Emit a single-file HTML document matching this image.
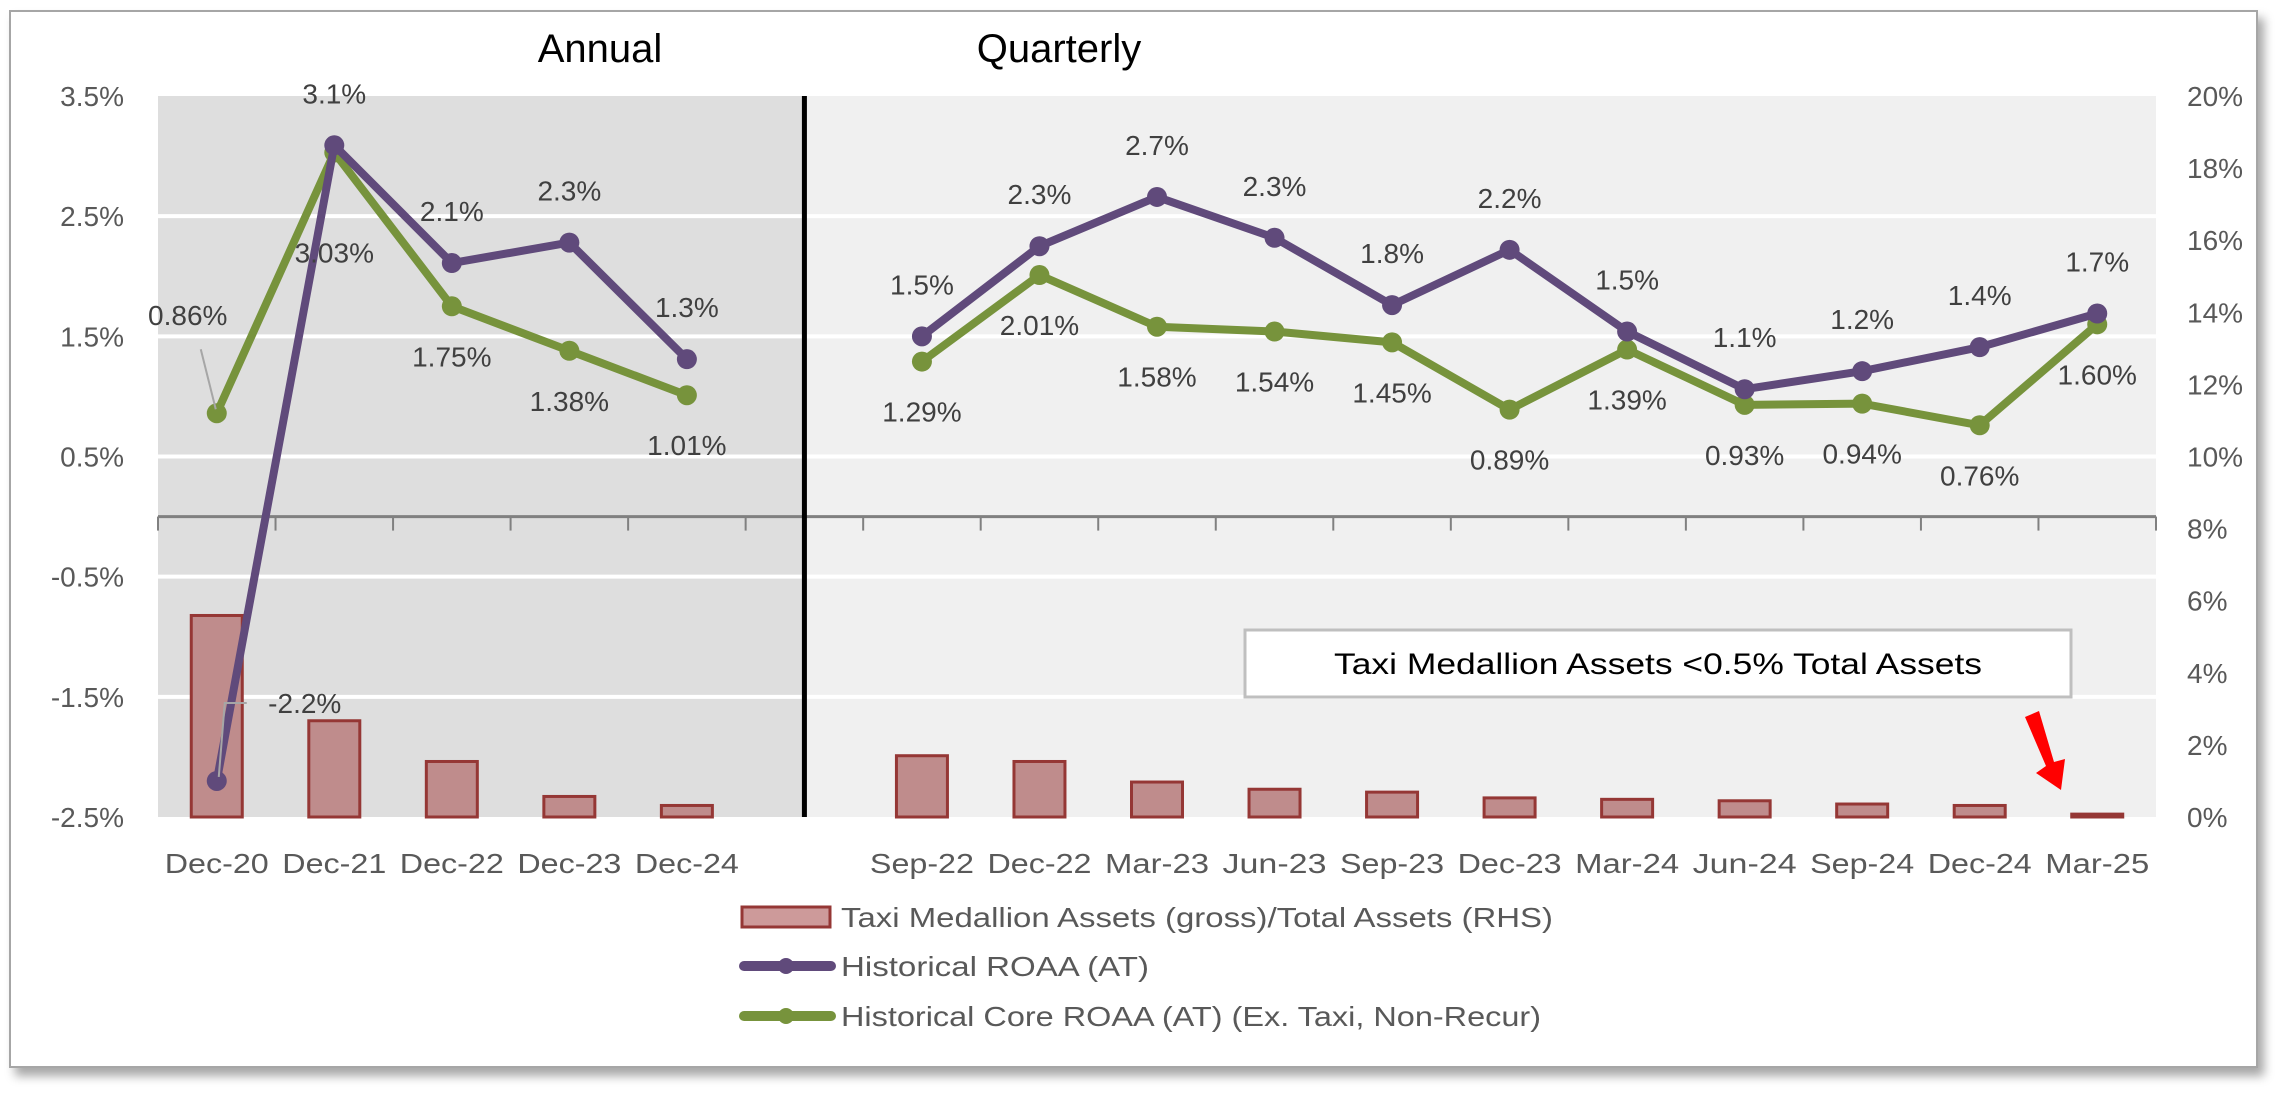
<!DOCTYPE html>
<html><head><meta charset="utf-8"><style>
html,body{margin:0;padding:0;background:#fff;}
svg{display:block;font-family:"Liberation Sans",sans-serif;}
</style></head><body>
<svg id="chart" width="2287" height="1097" viewBox="0 0 2287 1097" xmlns="http://www.w3.org/2000/svg">
<defs><filter id="sh" x="-5%" y="-5%" width="110%" height="115%"><feDropShadow dx="6" dy="8" stdDeviation="5" flood-color="#000" flood-opacity="0.35"/></filter></defs>
<rect x="10" y="11" width="2247" height="1056" fill="#fff" stroke="#a6a6a6" stroke-width="2" filter="url(#sh)"/>
<g id="plot"></g>
</svg>
<script>
const categories=["Dec-20","Dec-21","Dec-22","Dec-23","Dec-24","","Sep-22","Dec-22","Mar-23","Jun-23","Sep-23","Dec-23","Mar-24","Jun-24","Sep-24","Dec-24","Mar-25"];
const roaa=[-2.2,3.09,2.11,2.28,1.31,null,1.5,2.25,2.66,2.32,1.76,2.22,1.54,1.06,1.21,1.41,1.69];
const coreRoaa=[0.86,3.03,1.75,1.38,1.01,null,1.29,2.01,1.58,1.54,1.45,0.89,1.39,0.93,0.94,0.76,1.60];
const taxiAssets=[5.59,2.67,1.54,0.57,0.32,null,1.70,1.54,0.97,0.77,0.69,0.53,0.49,0.45,0.36,0.32,0.08];
const leftTicks=[3.5,2.5,1.5,0.5,-0.5,-1.5,-2.5];
const rightTicks=[20,18,16,14,12,10,8,6,4,2,0];
const roaaLabelSide=["right","above","above","above","above",null,"above","above","above","above","above","above","above","above","above","above","above"];
const coreLabelSide=["leader","far-below","below","below","below",null,"below","below","below","below","below","below","below","below","below","below","below"];

const NS="http://www.w3.org/2000/svg";
const P={l:158,r:2156,t:96,b:817};
const band=(P.r-P.l)/categories.length;
const xc=i=>P.l+band*(i+0.5);
const yL=v=>P.t+(3.5-v)/6*(P.b-P.t);
const yR=v=>P.b-v/20*(P.b-P.t);
const g=document.getElementById('plot');
function mk(tag,attrs,parent){const e=document.createElementNS(NS,tag);for(const k in attrs)e.setAttribute(k,attrs[k]);(parent||g).appendChild(e);return e;}
function txt(s,attrs){const e=mk('text',attrs);e.textContent=s;return e;}

const sepX=xc(5);
let e=mk('rect',{x:P.l,y:P.t,width:sepX-P.l,height:P.b-P.t,fill:'#dedede'});


e=mk('rect',{x:sepX,y:P.t,width:P.r-sepX,height:P.b-P.t,fill:'#f0f0f0'});


leftTicks.forEach(v=>{ if(v===3.5||v===-2.5)return;
  const l=mk('line',{x1:P.l,x2:P.r,y1:yL(v),y2:yL(v),stroke:'#fff','stroke-width':4});
  
  
});
leftTicks.forEach(v=>{
  const t=txt(v.toFixed(1)+'%',{x:124,y:yL(v)+10,'text-anchor':'end','font-size':28,fill:'#595959'});
  
  
});
rightTicks.forEach(v=>{
  const t=txt(v+'%',{x:2187,y:yR(v)+10,'font-size':28,fill:'#595959'});
  
  
});
const bw=51;
taxiAssets.forEach((v,i)=>{ if(v==null)return;
  const y=yR(v);
  const r=mk('rect',{x:xc(i)-bw/2,y:y,width:bw,height:Math.max(P.b-y,1),fill:'#bf8c8c',stroke:'#953735','stroke-width':3});
  
  
});
const y0=yL(0);
e=mk('line',{x1:P.l,x2:P.r,y1:y0,y2:y0,stroke:'#808080','stroke-width':3});


for(let i=0;i<=categories.length;i++){
  const t=mk('line',{x1:P.l+band*i,x2:P.l+band*i,y1:y0,y2:y0+14,stroke:'#808080','stroke-width':2});
  
  
}
e=mk('line',{x1:sepX,x2:sepX,y1:P.t,y2:P.b,stroke:'#000','stroke-width':5});


categories.forEach((c,i)=>{ if(!c)return;
  const t=txt(c,{x:xc(i),y:873,'text-anchor':'middle','font-size':28,fill:'#595959',textLength:104,lengthAdjust:'spacingAndGlyphs'});
  
  
});
function series(vals,color,name){
  [[0,4],[6,16]].forEach(([a,b])=>{
    const pts=[];for(let i=a;i<=b;i++)pts.push(xc(i)+','+yL(vals[i]));
    const pl=mk('polyline',{points:pts.join(' '),fill:'none',stroke:color,'stroke-width':8,'stroke-linejoin':'round'});
    
    
  });
  vals.forEach((v,i)=>{ if(v==null)return;
    const c=mk('circle',{cx:xc(i),cy:yL(v),r:10,fill:color});
    
    
  });
}
series(coreRoaa,'#77933c','core-roaa');
series(roaa,'#604a7b','roaa');
roaa.forEach((v,i)=>{ if(v==null)return;
  let x=xc(i),y=yL(v)-42;
  if(roaaLabelSide[i]==='right'){x=xc(i)+88;y=yL(v)-68;
    const ld=mk('polyline',{points:(xc(i)+2)+','+(yL(v)-4)+' '+(xc(i)+8)+','+(yL(v)-78)+' '+(xc(i)+30)+','+(yL(v)-78),fill:'none',stroke:'#a6a6a6','stroke-width':2});
    
    
  }
  const t=txt(v.toFixed(1)+'%',{x:x,y:y,'text-anchor':'middle','font-size':28,fill:'#404040'});
  
  
});
coreRoaa.forEach((v,i)=>{ if(v==null)return;
  let x=xc(i),y=yL(v)+60;
  if(coreLabelSide[i]==='far-below'){y=yL(v)+110;}
  if(coreLabelSide[i]==='leader'){x=xc(i)-29;y=yL(v)-88;
    const ld=mk('line',{x1:xc(i)-16,y1:yL(v)-64,x2:xc(i)-1,y2:yL(v)-4,stroke:'#a6a6a6','stroke-width':2});
    
    
  }
  const t=txt(v.toFixed(2)+'%',{x:x,y:y,'text-anchor':'middle','font-size':28,fill:'#404040'});
  
  
});
e=txt('Annual',{x:600,y:62,'text-anchor':'middle','font-size':40,fill:'#000'});


e=txt('Quarterly',{x:1059,y:62,'text-anchor':'middle','font-size':40,fill:'#000'});


e=mk('rect',{x:1245,y:630,width:826,height:67,fill:'#fff',stroke:'#bfbfbf','stroke-width':3});


e=txt('Taxi Medallion Assets <0.5% Total Assets',{x:1658,y:674,'text-anchor':'middle','font-size':30,fill:'#000',textLength:648,lengthAdjust:'spacingAndGlyphs'});


e=mk('polygon',{points:'2025,717 2039,711 2054,762 2065,759 2061,790 2036,773 2046,766',fill:'#ff0000'});


e=mk('rect',{x:742,y:907,width:88,height:20,fill:'#cd9a9a',stroke:'#953735','stroke-width':3});


e=txt('Taxi Medallion Assets (gross)/Total Assets (RHS)',{x:841,y:927,'font-size':28,fill:'#595959',textLength:712,lengthAdjust:'spacingAndGlyphs'});


[['#604a7b',966,'Historical ROAA (AT)',308,'legend-entry-roaa'],['#77933c',1016,'Historical Core ROAA (AT) (Ex. Taxi, Non-Recur)',700,'legend-entry-core-roaa']].forEach(([c,y,s,w,n])=>{
  const l=mk('line',{x1:744,x2:831,y1:y,y2:y,stroke:c,'stroke-width':10,'stroke-linecap':'round'});
  
  
  const m=mk('circle',{cx:786,cy:y,r:8,fill:c});
  
  
  const t=txt(s,{x:841,y:y+10,'font-size':28,fill:'#595959',textLength:w,lengthAdjust:'spacingAndGlyphs'});
  
  
});
</script>
</body></html>
